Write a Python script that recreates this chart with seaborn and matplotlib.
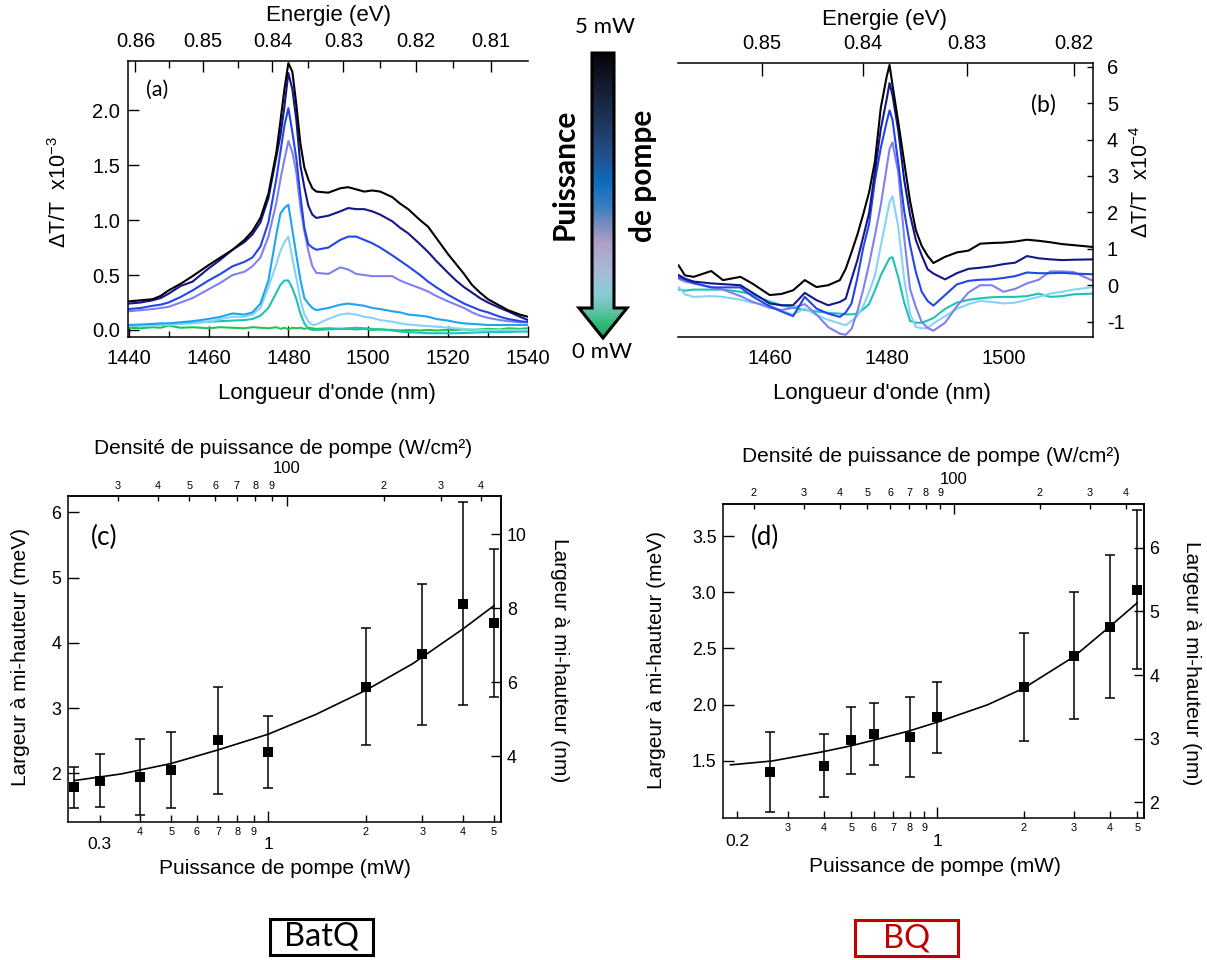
import numpy as np
import pandas as pd
import matplotlib
matplotlib.use("Agg")
import matplotlib.pyplot as plt
import seaborn as sns
from matplotlib.ticker import MultipleLocator, FixedLocator, FuncFormatter, FormatStrFormatter, NullLocator
from matplotlib.colors import LinearSegmentedColormap
from matplotlib.patches import Polygon, Rectangle

W, H = 1207, 960
HC = 1239.84            # eV.nm
NM_PER_MEV = 1.7666     # width conversion at 1480 nm
DENSITY_PER_MW = 87.8   # W/cm2 per mW of pump

# ---------------- (a) BatQ spectra, dT/T x1e-3 ----------------
a_nm = [1440, 1443, 1446, 1448, 1450, 1453, 1456, 1460, 1463, 1466, 1469, 1471, 1473, 1475, 1477, 1478,
        1479, 1480, 1481, 1482, 1483, 1484, 1485, 1486, 1487, 1490, 1493, 1495, 1497, 1499, 1501, 1503,
        1506, 1508, 1510, 1513, 1515, 1517, 1520, 1522, 1524, 1526, 1528, 1530, 1533, 1535, 1538, 1540]
a_black = [0.26, 0.27, 0.28, 0.31, 0.36, 0.42, 0.49, 0.59, 0.66, 0.73, 0.82, 0.90, 1.02, 1.24, 1.62, 1.90,
           2.19, 2.43, 2.35, 2.05, 1.70, 1.48, 1.37, 1.29, 1.26, 1.25, 1.29, 1.30, 1.28, 1.26, 1.27, 1.26,
           1.21, 1.15, 1.10, 1.00, 0.94, 0.84, 0.69, 0.60, 0.51, 0.41, 0.34, 0.28, 0.22, 0.18, 0.14, 0.12]
a_navy = [0.24, 0.25, 0.27, 0.29, 0.33, 0.40, 0.44, 0.56, 0.64, 0.73, 0.80, 0.87, 0.98, 1.20, 1.58, 1.77,
          2.03, 2.34, 2.19, 1.91, 1.50, 1.30, 1.13, 1.05, 1.02, 1.04, 1.08, 1.11, 1.10, 1.10, 1.08, 1.05,
          0.99, 0.93, 0.88, 0.78, 0.71, 0.63, 0.52, 0.45, 0.39, 0.34, 0.29, 0.25, 0.20, 0.17, 0.12, 0.09]
a_blue = [0.19, 0.20, 0.22, 0.23, 0.25, 0.30, 0.36, 0.45, 0.51, 0.58, 0.62, 0.66, 0.76, 0.98, 1.38, 1.62,
          1.86, 2.02, 1.80, 1.56, 1.23, 0.93, 0.78, 0.75, 0.73, 0.75, 0.82, 0.85, 0.85, 0.82, 0.79, 0.75,
          0.68, 0.63, 0.58, 0.50, 0.44, 0.39, 0.32, 0.28, 0.24, 0.21, 0.18, 0.16, 0.12, 0.10, 0.08, 0.07]
a_peri = [0.17, 0.18, 0.19, 0.20, 0.21, 0.25, 0.29, 0.37, 0.43, 0.50, 0.53, 0.58, 0.66, 0.85, 1.16, 1.37,
          1.55, 1.72, 1.62, 1.43, 1.12, 0.90, 0.72, 0.58, 0.52, 0.51, 0.57, 0.55, 0.51, 0.50, 0.49, 0.49,
          0.49, 0.45, 0.42, 0.38, 0.35, 0.31, 0.26, 0.23, 0.20, 0.16, 0.13, 0.11, 0.09, 0.08, 0.07, 0.07]
a_sky = [0.045, 0.05, 0.055, 0.06, 0.06, 0.07, 0.08, 0.10, 0.12, 0.15, 0.14, 0.16, 0.24, 0.45, 0.87, 1.06,
         1.11, 1.14, 0.91, 0.68, 0.46, 0.29, 0.24, 0.20, 0.18, 0.20, 0.23, 0.24, 0.23, 0.22, 0.20, 0.19,
         0.17, 0.16, 0.14, 0.13, 0.12, 0.10, 0.085, 0.07, 0.06, 0.055, 0.05, 0.045, 0.045, 0.045, 0.045, 0.045]
a_lsky = [0.035, 0.04, 0.04, 0.045, 0.045, 0.055, 0.06, 0.075, 0.10, 0.12, 0.12, 0.14, 0.20, 0.39, 0.60, 0.72,
          0.80, 0.85, 0.65, 0.47, 0.28, 0.14, 0.08, 0.045, 0.05, 0.10, 0.14, 0.15, 0.14, 0.12, 0.11, 0.09,
          0.075, 0.06, 0.05, 0.04, 0.035, 0.03, 0.02, 0.015, 0.01, 0.005, 0.0, 0.0, 0.0, 0.0, 0.0, 0.0]
a_teal = [0.035, 0.04, 0.045, 0.05, 0.055, 0.06, 0.065, 0.075, 0.08, 0.085, 0.09, 0.10, 0.13, 0.20, 0.34, 0.41,
          0.45, 0.45, 0.38, 0.28, 0.15, 0.06, 0.01, 0.0, 0.0, 0.005, 0.01, 0.015, 0.02, 0.015, 0.01, 0.005,
          -0.005, -0.015, -0.02, -0.025, -0.03, -0.03, -0.03, -0.03, -0.028, -0.025, -0.022, -0.02, -0.02,
          -0.018, -0.015, -0.015]
a_green = [0.02, 0.015, 0.025, 0.02, 0.04, 0.02, 0.025, 0.015, 0.025, 0.02, 0.015, 0.025, 0.02, 0.015, 0.025,
           0.01, 0.02, 0.005, 0.02, 0.015, 0.02, 0.01, 0.02, 0.015, 0.01, 0.015, 0.01, 0.01, 0.005, 0.01, 0.0,
           0.005, 0.0, -0.005, 0.0, -0.005, 0.0, -0.005, 0.0, 0.0, 0.005, 0.0, 0.005, 0.01, 0.005, 0.015,
           0.01, 0.015]
a_ev_ticks = [0.81, 0.82, 0.83, 0.84, 0.85, 0.86]
a_ev_minor = [0.815, 0.825, 0.835, 0.845, 0.855]

# ---------------- (b) BQ spectra, dT/T x1e-4 ----------------
b_nm = [1444.4, 1445.5, 1447, 1450, 1452, 1455, 1457, 1460, 1462, 1464, 1466, 1468, 1470, 1472, 1473,
        1474, 1475, 1476, 1477, 1478, 1479, 1480, 1480.5, 1481, 1482, 1483, 1484, 1485, 1486, 1487,
        1488, 1490, 1492, 1494, 1496, 1498, 1500, 1502, 1504, 1506, 1508, 1510, 1512, 1515.3]
b_black = [0.55, 0.27, 0.23, 0.39, 0.14, 0.23, 0.05, -0.27, -0.24, -0.14, 0.14, -0.05, 0.0, 0.14, 0.45,
           0.91, 1.39, 1.95, 2.55, 3.40, 4.87, 5.72, 6.05, 5.50, 4.47, 3.39, 2.32, 1.51, 1.08, 0.81,
           0.61, 0.78, 0.90, 0.95, 1.14, 1.16, 1.17, 1.20, 1.25, 1.22, 1.18, 1.13, 1.10, 1.05]
b_navy = [0.28, 0.18, 0.10, 0.05, 0.03, 0.0, -0.2, -0.50, -0.55, -0.55, -0.21, -0.41, -0.55, -0.46, -0.37,
          0.17, 0.69, 1.33, 1.98, 3.11, 4.29, 5.10, 5.55, 5.22, 4.24, 2.90, 1.94, 1.24, 0.82, 0.44,
          0.32, 0.16, 0.33, 0.45, 0.48, 0.52, 0.58, 0.62, 0.80, 0.74, 0.71, 0.69, 0.70, 0.71]
b_blue = [0.22, 0.15, 0.06, -0.06, -0.06, -0.06, -0.30, -0.58, -0.72, -0.85, -0.32, -0.64, -0.78, -0.87, -0.75,
          -0.50, 0.20, 1.03, 1.68, 2.87, 3.77, 4.48, 4.80, 4.55, 3.34, 2.04, 1.11, 0.36, -0.18, -0.43,
          -0.56, -0.27, 0.02, 0.12, 0.15, 0.16, 0.20, 0.25, 0.35, 0.33, 0.33, 0.34, 0.32, 0.30]
b_peri = [0.18, 0.10, 0.05, -0.05, -0.12, -0.30, -0.45, -0.62, -0.68, -0.62, -0.52, -0.80, -1.15, -1.33, -1.36,
          -1.20, -0.72, -0.12, 0.58, 1.37, 2.20, 3.22, 3.74, 3.92, 3.09, 1.31, -0.10, -0.60, -1.01, -1.17,
          -1.25, -1.03, -0.58, -0.20, 0.0, 0.0, -0.18, -0.10, 0.05, 0.15, 0.38, 0.38, 0.36, 0.12]
b_lsky = [-0.05, -0.25, -0.32, -0.30, -0.32, -0.40, -0.48, -0.55, -0.70, -0.80, -0.64, -0.82, -0.95, -1.05, -1.10,
          -0.98, -0.84, -0.57, -0.19, 0.27, 1.08, 1.88, 2.28, 2.44, 1.60, 0.17, -0.78, -1.15, -1.18, -1.18,
          -1.05, -0.85, -0.65, -0.52, -0.43, -0.46, -0.50, -0.48, -0.40, -0.32, -0.23, -0.18, -0.12, -0.05]
b_teal = [-0.12, -0.15, -0.12, -0.12, -0.12, -0.18, -0.25, -0.45, -0.55, -0.62, -0.68, -0.72, -0.76, -0.78, -0.80,
          -0.80, -0.78, -0.66, -0.52, -0.14, 0.27, 0.59, 0.74, 0.77, 0.21, -0.47, -0.98, -1.03, -1.03, -0.97,
          -0.90, -0.65, -0.48, -0.40, -0.36, -0.33, -0.32, -0.32, -0.30, -0.23, -0.32, -0.30, -0.25, -0.23]
b_ev_ticks = [0.82, 0.83, 0.84, 0.85]
b_y_ticks = [-1, 0, 1, 2, 3, 4, 5, 6]

# ---------------- (c) BatQ width vs pump power ----------------
c_power = [0.25, 0.3, 0.4, 0.5, 0.7, 1.0, 2.0, 3.0, 4.0, 5.0]
c_width = [1.785, 1.888, 1.949, 2.051, 2.511, 2.322, 3.328, 3.824, 4.595, 4.299]
c_high = [2.092, 2.291, 2.526, 2.628, 3.328, 2.879, 4.222, 4.897, 6.163, 5.438]
c_low = [1.464, 1.489, 1.361, 1.474, 1.678, 1.780, 2.439, 2.741, 3.047, 3.175]
c_fit_power = [0.25, 0.35, 0.5, 0.7, 1.0, 1.4, 2.0, 2.8, 4.0, 5.0]
c_fit_width = [1.888, 1.99, 2.15, 2.36, 2.60, 2.90, 3.27, 3.68, 4.21, 4.57]

# ---------------- (d) BQ width vs pump power ----------------
d_power = [0.26, 0.4, 0.5, 0.6, 0.8, 1.0, 2.0, 3.0, 4.0, 5.0]
d_width = [1.399, 1.456, 1.687, 1.737, 1.710, 1.888, 2.155, 2.436, 2.694, 3.020]
d_high = [1.761, 1.737, 1.983, 2.013, 2.066, 2.199, 2.635, 3.005, 3.331, 3.731]
d_low = [1.050, 1.183, 1.384, 1.464, 1.361, 1.571, 1.678, 1.870, 2.063, 2.315]
d_fit_power = [0.189, 0.265, 0.4, 0.5, 0.6, 0.8, 1.0, 1.5, 2.0, 3.0, 4.0, 5.0]
d_fit_width = [1.465, 1.50, 1.583, 1.635, 1.685, 1.768, 1.845, 2.0, 2.146, 2.427, 2.694, 2.907]

palette = {"black": "#000000", "navy": "#15168a", "blue": "#2346e8", "peri": "#8080f2",
           "sky": "#1ea4f2", "lsky": "#86d3fa", "teal": "#1fc2b6", "green": "#22c64c"}

sns.set_theme(style="white")
plt.rcParams["font.family"] = ["Liberation Sans", "DejaVu Sans"]
plt.rcParams.update({
    "axes.edgecolor": "black", "axes.linewidth": 1.1, "text.color": "black",
    "xtick.color": "black", "ytick.color": "black", "axes.unicode_minus": False,
    "mathtext.fontset": "custom", "mathtext.rm": "Liberation Sans", "mathtext.default": "regular",
    "xtick.direction": "in", "ytick.direction": "in",
})

fig = plt.figure(figsize=(W / 100, H / 100), dpi=100)


def px(l, t, r, b):
    return [l / W, 1 - b / H, (r - l) / W, (b - t) / H]


def nm_to_ev(x):
    x = np.asarray(x, dtype=float)
    with np.errstate(divide="ignore"):
        return HC / x


def lead_digit(v, pos):
    if v <= 0:
        return ""
    return f"{v / 10 ** np.floor(np.log10(v) + 1e-9):.0f}"


def draw_spectra(ax, nm, curves):
    order = list(curves)
    df = pd.DataFrame({"nm": np.tile(nm, len(order)),
                       "val": np.concatenate([curves[k] for k in order]),
                       "curve": np.repeat(order, len(nm))})
    sns.lineplot(data=df, x="nm", y="val", hue="curve", hue_order=order, palette=palette,
                 estimator=None, sort=False, legend=False, linewidth=1.5, ax=ax)
    ax.set_xlabel("")
    ax.set_ylabel("")


TICK = 14.5

# ---- (a)
ax_a = fig.add_axes(px(127.5, 61, 527.9, 337.3))
draw_spectra(ax_a, a_nm, {"green": a_green, "teal": a_teal, "lsky": a_lsky, "sky": a_sky,
                          "peri": a_peri, "blue": a_blue, "navy": a_navy, "black": a_black})
ax_a.set_xlim(1439.7, 1540)
ax_a.set_ylim(-0.067, 2.449)
ax_a.xaxis.set_major_locator(FixedLocator([1440, 1460, 1480, 1500, 1520, 1540]))
ax_a.xaxis.set_minor_locator(FixedLocator([1450, 1470, 1490, 1510, 1530]))
ax_a.yaxis.set_major_locator(FixedLocator([0.0, 0.5, 1.0, 1.5, 2.0]))
ax_a.yaxis.set_major_formatter(FormatStrFormatter("%.1f"))
ax_a.tick_params(which="both", top=False, right=False, bottom=True, left=True, width=1)
ax_a.tick_params(axis="x", which="major", length=8, labelsize=TICK, pad=8.5)
ax_a.tick_params(axis="x", which="minor", length=4.3)
ax_a.tick_params(axis="y", which="major", length=8, labelsize=TICK, pad=5.3)
ax_a.spines["right"].set_visible(False)
ax_a.spines["top"].set_visible(False)
top_a = ax_a.secondary_xaxis("top", functions=(nm_to_ev, nm_to_ev))
top_a.xaxis.set_major_locator(FixedLocator(a_ev_ticks))
top_a.xaxis.set_minor_locator(FixedLocator(a_ev_minor))
top_a.xaxis.set_major_formatter(FormatStrFormatter("%.2f"))
top_a.tick_params(which="both", direction="in", width=1)
top_a.tick_params(which="major", length=7.7, labelsize=TICK, pad=7.5)
top_a.tick_params(which="minor", length=5)

# ---- (b)
ax_b = fig.add_axes(px(678.2, 62.7, 1093, 337.3))
draw_spectra(ax_b, b_nm, {"teal": b_teal, "lsky": b_lsky, "peri": b_peri,
                          "blue": b_blue, "navy": b_navy, "black": b_black})
ax_b.set_xlim(1444.35, 1515.3)
ax_b.set_ylim(-1.43, 6.11)
ax_b.xaxis.set_major_locator(FixedLocator([1460, 1480, 1500]))
ax_b.xaxis.set_minor_locator(FixedLocator([1450, 1470, 1490, 1510]))
ax_b.yaxis.tick_right()
ax_b.yaxis.set_major_locator(FixedLocator(b_y_ticks))
ax_b.yaxis.set_major_formatter(FuncFormatter(lambda v, p: f"{v:.0f}"))
ax_b.tick_params(which="both", width=1)
ax_b.tick_params(axis="x", which="major", length=8.6, labelsize=TICK, pad=8.5)
ax_b.tick_params(axis="x", which="minor", length=5)
ax_b.tick_params(axis="y", which="major", length=4.6, labelsize=TICK, pad=10, left=False, right=True)
ax_b.spines["left"].set_visible(False)
ax_b.spines["top"].set_visible(False)
top_b = ax_b.secondary_xaxis("top", functions=(nm_to_ev, nm_to_ev))
top_b.xaxis.set_major_locator(FixedLocator(b_ev_ticks))
top_b.xaxis.set_minor_locator(NullLocator())
top_b.xaxis.set_major_formatter(FormatStrFormatter("%.2f"))
top_b.tick_params(which="major", direction="in", width=1, length=9.4, labelsize=TICK, pad=6.8)


# ---- (c) / (d)
def width_panel(rect, power, width, low, high, fit_p, fit_w, xlim, ylim, left_ticks, left_fmt,
                right_ticks, big_ticks, small_ticks, top_small, top_pads):
    ax = fig.add_axes(px(*rect))
    ax.set_xscale("log")
    power = np.asarray(power)
    width = np.asarray(width)
    ax.errorbar(power, width, yerr=[width - np.asarray(low), np.asarray(high) - width], fmt="none",
                ecolor="black", elinewidth=1.1, capsize=3.6, capthick=1.1, zorder=2)
    sns.lineplot(x=fit_p, y=fit_w, color="black", linewidth=1.2, ax=ax, zorder=2)
    sns.scatterplot(x=power, y=width, marker="s", s=42, color="black", edgecolor="black",
                    linewidth=0, ax=ax, zorder=3)
    ax.set_xlim(*xlim)
    ax.set_ylim(*ylim)
    ax.set_xlabel("")
    ax.set_ylabel("")
    ax.xaxis.set_major_locator(FixedLocator(big_ticks))
    ax.xaxis.set_major_formatter(FuncFormatter(lambda v, p: f"{v:g}"))
    ax.xaxis.set_minor_locator(FixedLocator(small_ticks))
    ax.xaxis.set_minor_formatter(FuncFormatter(lead_digit))
    ax.yaxis.set_major_locator(FixedLocator(left_ticks))
    ax.yaxis.set_major_formatter(FormatStrFormatter(left_fmt))
    ax.yaxis.set_minor_locator(NullLocator())
    ax.tick_params(which="both", top=False, right=False, bottom=True, left=True, width=1)
    ax.tick_params(axis="x", which="major", length=8, labelsize=12.5, pad=11)
    ax.tick_params(axis="x", which="minor", length=4.8, labelsize=7.8, pad=3.6)
    ax.tick_params(axis="y", which="major", length=7.7, labelsize=12.8, pad=4.7)
    ticks = ax.xaxis.get_major_ticks()
    if big_ticks[0] < 0.5:
        ticks[0].tick1line.set_markersize(4.8)

    top = ax.secondary_xaxis("top", functions=(lambda p: p * DENSITY_PER_MW, lambda d: d / DENSITY_PER_MW))
    top.xaxis.set_major_locator(FixedLocator([100]))
    top.xaxis.set_major_formatter(FuncFormatter(lambda v, p: f"{v:g}"))
    top.xaxis.set_minor_locator(FixedLocator(top_small))
    top.xaxis.set_minor_formatter(FuncFormatter(lead_digit))
    top.tick_params(which="both", direction="in", width=1)
    top.tick_params(which="major", length=7.2, labelsize=12, pad=top_pads[0])
    top.tick_params(which="minor", length=3.6, labelsize=7.8, pad=top_pads[1])

    right = ax.secondary_yaxis("right", functions=(lambda m: m * NM_PER_MEV, lambda n: n / NM_PER_MEV))
    right.yaxis.set_major_locator(FixedLocator(right_ticks))
    right.yaxis.set_major_formatter(FormatStrFormatter("%d"))
    right.yaxis.set_minor_locator(NullLocator())
    right.tick_params(which="major", direction="in", width=1, length=7.2, labelsize=12.8, pad=4)
    return ax


ax_c = width_panel((67.7, 495.7, 501.3, 821.7), c_power, c_width, c_low, c_high, c_fit_power, c_fit_width,
                   (0.239, 5.265), (1.258, 6.254), [2, 3, 4, 5, 6], "%d", [4, 6, 8, 10],
                   [0.3, 1], [0.4, 0.5, 0.6, 0.7, 0.8, 0.9, 2, 3, 4, 5],
                   [30, 40, 50, 60, 70, 80, 90, 200, 300, 400], (14, 3.4))
ax_d = width_panel((723.1, 504, 1143.9, 818.3), d_power, d_width, d_low, d_high, d_fit_power, d_fit_width,
                   (0.1783, 5.27), (0.99, 3.785), [1.5, 2.0, 2.5, 3.0, 3.5], "%.1f", [2, 3, 4, 5, 6],
                   [0.2, 1], [0.3, 0.4, 0.5, 0.6, 0.7, 0.8, 0.9, 2, 3, 4, 5],
                   [20, 30, 40, 50, 60, 70, 80, 90, 200, 300, 400], (12.5, 4.3))

# ---- overlay: labels, gradient arrow, sample tags (pixel coordinates)
ov = fig.add_axes([0, 0, 1, 1])
ov.set_xlim(0, W)
ov.set_ylim(H, 0)
ov.axis("off")
ov.patch.set_alpha(0)

lab = dict(fontsize=16, ha="center", va="center")
ov.text(328, 16, "Energie (eV)", **lab)
ov.text(327, 394, "Longueur d'onde (nm)", **lab)
ov.text(60, 192, "ΔT/T  x10$^{-3}$", rotation=90, fontsize=15.5, ha="center", va="center")
ov.text(884, 19, "Energie (eV)", **lab)
ov.text(882, 394, "Longueur d'onde (nm)", **lab)
ov.text(1142, 182, "ΔT/T  x10$^{-4}$", rotation=90, fontsize=15.5, ha="center", va="center")
lab2 = dict(fontsize=15, ha="center", va="center")
ov.text(283, 449, "Densité de puissance de pompe (W/cm²)", **lab2)
ov.text(285, 868, "Puissance de pompe (mW)", **lab2)
ov.text(21, 657, "Largeur à mi-hauteur (meV)", rotation=90, **lab2)
ov.text(559.5, 660, "Largeur à mi-hauteur (nm)", rotation=270, **lab2)
ov.text(931, 457, "Densité de puissance de pompe (W/cm²)", **lab2)
ov.text(935, 866, "Puissance de pompe (mW)", **lab2)
ov.text(656, 660, "Largeur à mi-hauteur (meV)", rotation=90, **lab2)
ov.text(1192, 663, "Largeur à mi-hauteur (nm)", rotation=270, **lab2)

cal = ["Lato", "DejaVu Sans"]
ov.text(157, 90, "(a)", family=cal, fontsize=15.5, ha="center", va="center")
ov.text(1043, 105, "(b)", family=cal, fontsize=16.5, ha="center", va="center")
ov.text(104, 537, "(c)", family=cal, fontsize=19, ha="center", va="center")
ov.text(764.5, 537, "(d)", family=cal, fontsize=18.5, ha="center", va="center")

arrow_cmap = LinearSegmentedColormap.from_list("pump", [
    (0.0, "#050508"), (0.12, "#141c2e"), (0.25, "#1e3860"), (0.36, "#22508c"), (0.45, "#0c6cbc"),
    (0.54, "#3a7ec0"), (0.62, "#8a90c0"), (0.67, "#b0a0c6"), (0.77, "#a4bcd6"), (0.84, "#8ccbd8"),
    (0.89, "#6cc6b4"), (0.95, "#30b878"), (1.0, "#14ac58")])
arrow_pts = [(592, 53), (614, 53), (614, 308), (627, 308), (603, 338), (579, 308), (592, 308)]
grad = np.linspace(0, 1, 256).reshape(-1, 1)
im = ov.imshow(grad, cmap=arrow_cmap, aspect="auto", extent=(578, 628, 339, 52), origin="upper", zorder=1)
clip = Polygon(arrow_pts, closed=True, transform=ov.transData, facecolor="none", edgecolor="none")
ov.add_patch(clip)
im.set_clip_path(clip)
ov.add_patch(Polygon(arrow_pts, closed=True, fill=False, edgecolor="black", linewidth=2.2,
                     joinstyle="miter", zorder=2))
ov.set_xlim(0, W)
ov.set_ylim(H, 0)
ov.text(605, 27, "5 mW", family=cal, fontsize=16, ha="center", va="center")
ov.text(602, 352, "0 mW", family=cal, fontsize=16, ha="center", va="center")
ov.text(565, 174, "Puissance", family=cal, fontsize=21.5, fontweight="bold", rotation=90,
        ha="center", va="center")
ov.text(643, 176, "de pompe", family=cal, fontsize=21.5, fontweight="bold", rotation=90,
        ha="center", va="center")

ov.add_patch(Rectangle((270, 919), 103, 36, fill=False, edgecolor="black", linewidth=2.2))
ov.text(321.5, 937, "BatQ", family=cal, fontsize=23.5, ha="center", va="center")
ov.add_patch(Rectangle((855, 920), 103, 36, fill=False, edgecolor="#c00000", linewidth=2.2))
ov.text(906.5, 938, "BQ", family=cal, fontsize=23.5, color="#c00000", ha="center", va="center")

fig.savefig("out.png", dpi=100)
